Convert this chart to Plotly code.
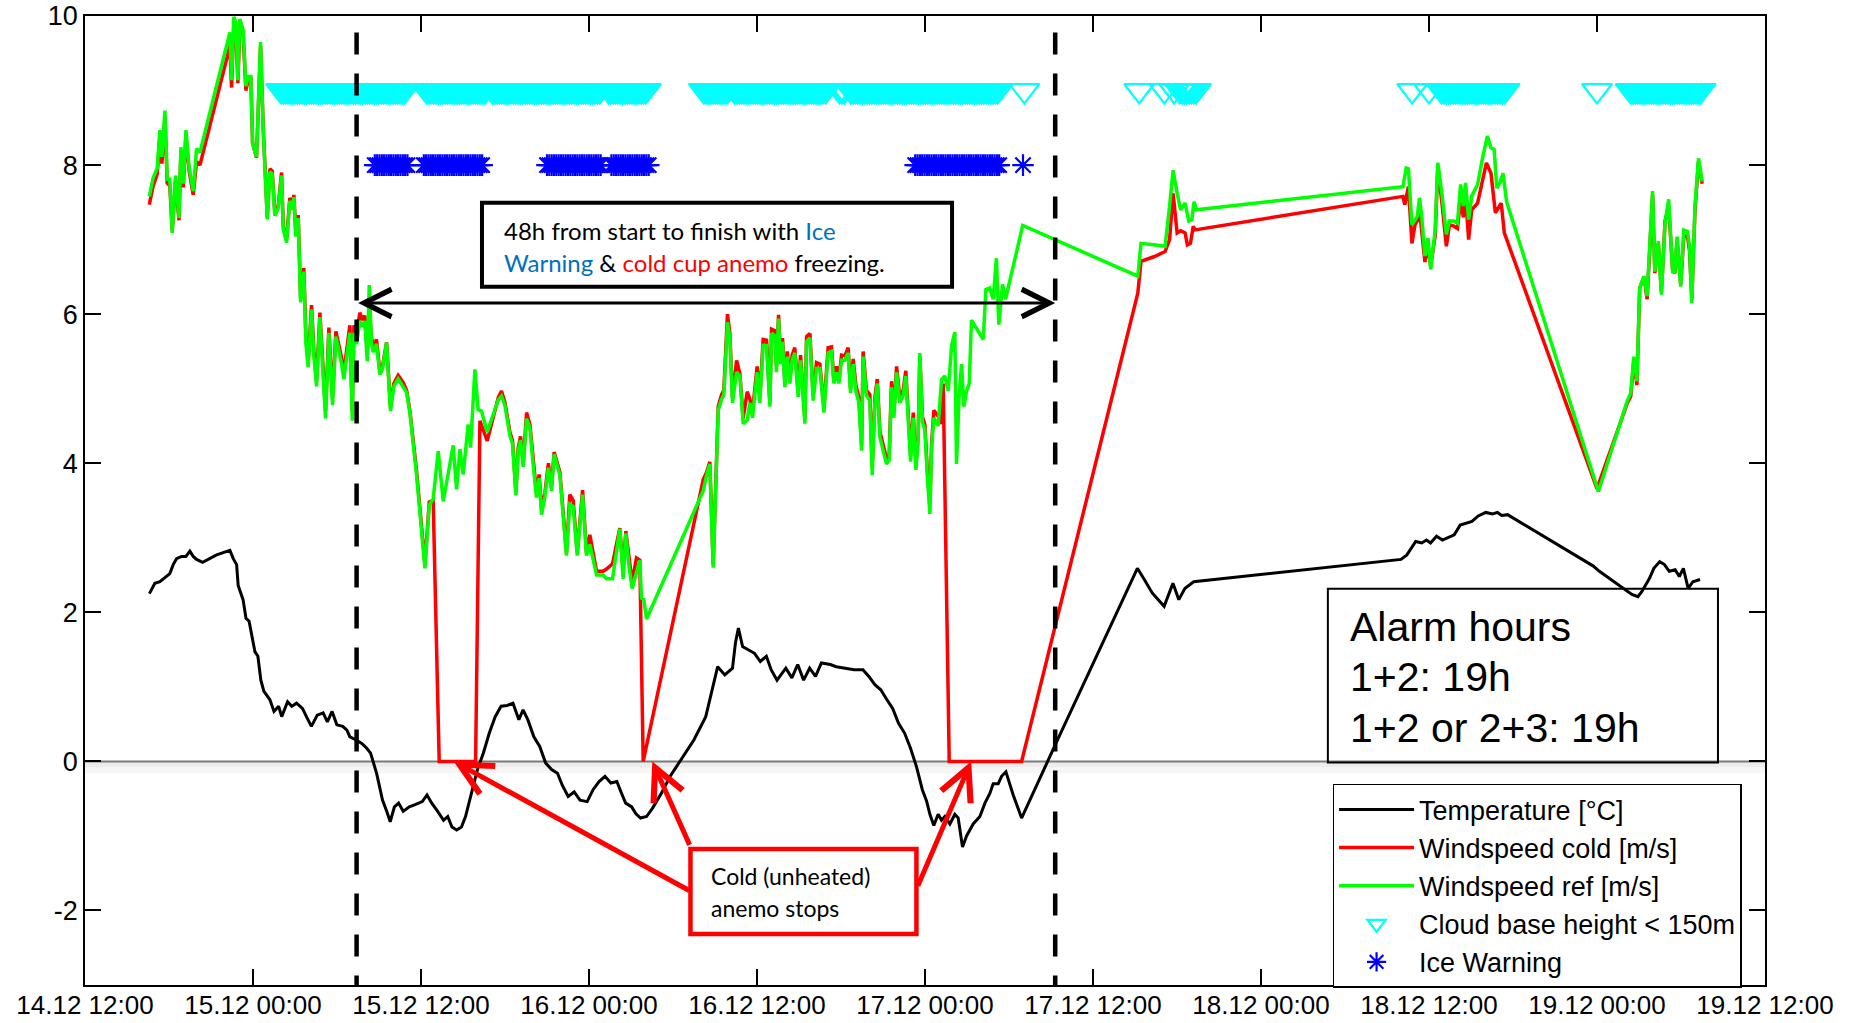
from datetime import datetime, timedelta

import numpy as np
import plotly.graph_objects as go

# ---------------------------------------------------------------------------
# Measurement data (time in hours after 14.12 12:00)
# ---------------------------------------------------------------------------
START = datetime(2014, 12, 14, 12, 0)

temp_hours = [
    4.6, 4.99, 5.35, 5.71, 6.06, 6.3, 6.54, 6.9, 7.21, 7.49, 7.73, 7.97, 8.4, 9.4, 10.35, 10.59,
    10.83, 10.94, 11.18, 11.29, 11.5, 11.72, 12.14, 12.35, 12.56, 12.78, 13.2, 13.5, 13.83, 14.05,
    14.47, 14.77, 15.11, 15.53, 15.87, 16.17, 16.59, 17.01, 17.31, 17.65, 17.99, 18.41, 18.71,
    18.92, 19.34, 19.77, 20.11, 20.4, 20.83, 21.25, 21.55, 21.8, 22.1, 22.4, 22.73, 23.16, 23.58,
    24.09, 24.43, 24.77, 25.19, 25.61, 25.91, 26.21, 26.55, 26.89, 27.18, 27.61, 28.03, 28.45,
    28.88, 29.3, 29.72, 30.15, 30.57, 30.99, 31.29, 31.63, 32.06, 32.48, 32.9, 33.33, 33.75, 34.09,
    34.51, 34.94, 35.36, 35.87, 36.29, 36.72, 37.14, 37.56, 37.99, 38.33, 38.62, 39.05, 39.34,
    39.68, 40.11, 40.53, 41.16, 41.8, 42.65, 43.5, 44.34, 44.77, 45.19, 45.7, 46.25, 46.46, 46.67,
    46.97, 47.4, 47.82, 48.24, 48.67, 49.01, 49.43, 50.06, 50.49, 50.91, 51.33, 51.76, 52.18, 52.6,
    53.24, 53.66, 54.3, 54.94, 55.57, 55.99, 56.42, 56.84, 57.27, 57.69, 58.11, 58.54, 58.96,
    59.39, 59.81, 60.11, 60.35, 60.63, 60.94, 61.18, 61.42, 61.78, 62.13, 62.37, 62.68, 62.97,
    63.44, 63.92, 64.28, 64.63, 64.87, 65.23, 65.47, 65.78, 66.3, 66.9, 69.25, 75.17, 75.6, 76.23,
    77.08, 77.5, 77.71, 78.13, 78.56, 79.19, 94.0, 94.42, 95.05, 95.48, 95.82, 96.11, 96.54, 96.96,
    97.38, 97.8, 98.23, 98.65, 99.07, 99.49, 100.05, 100.55, 100.89, 101.19, 101.61, 107.74,
    108.17, 110.49, 110.92, 111.21, 111.76, 112.06, 112.48, 112.82, 113.16, 113.58, 113.88,
    114.17, 114.51, 114.85, 115.36,
]
temp_degc = [
    2.25, 2.39, 2.41, 2.46, 2.52, 2.64, 2.72, 2.75, 2.75, 2.82, 2.75, 2.71, 2.67, 2.77, 2.83, 2.72,
    2.64, 2.36, 2.21, 2.17, 1.92, 1.88, 1.47, 1.41, 1.09, 0.94, 0.83, 0.67, 0.74, 0.6,
    0.8, 0.74, 0.78, 0.71, 0.58, 0.47, 0.62, 0.65, 0.53, 0.67, 0.49, 0.47, 0.42,
    0.33, 0.29, 0.24, 0.18, 0.11, -0.16, -0.52, -0.67, -0.81, -0.61, -0.56, -0.67, -0.61, -0.58,
    -0.54, -0.45, -0.56, -0.67, -0.79, -0.74, -0.88, -0.92, -0.88, -0.74, -0.43, -0.11, 0.11,
    0.38, 0.6, 0.74, 0.75, 0.78, 0.56, 0.69, 0.56, 0.33, 0.2, -0.02, -0.11, -0.16, -0.32,
    -0.47, -0.41, -0.52, -0.54, -0.38, -0.27, -0.2, -0.29, -0.27, -0.43, -0.56, -0.61, -0.7,
    -0.76, -0.74, -0.63, -0.43, -0.2, 0.04, 0.29, 0.6, 0.92, 1.27, 1.16, 1.25, 1.59, 1.79,
    1.54, 1.5, 1.45, 1.34, 1.41, 1.23, 1.09, 1.25, 1.12, 1.3, 1.09, 1.25, 1.14, 1.32,
    1.3, 1.27, 1.25, 1.23, 1.23, 1.14, 1.03, 0.96, 0.83, 0.71, 0.51, 0.38, 0.18,
    -0.07, -0.38, -0.53, -0.71, -0.86, -0.71, -0.79, -0.74, -0.84, -0.71, -0.76, -1.15, -1.0,
    -0.84, -0.74, -0.56, -0.43, -0.3, -0.3, -0.2, -0.14, -0.45, -0.76, 0.2, 2.59, 2.46, 2.26,
    2.08, 2.28, 2.39, 2.17, 2.32, 2.41, 2.71, 2.77, 2.95, 2.93, 2.97, 2.93, 3.02, 2.97,
    3.0, 3.04, 3.17, 3.19, 3.22, 3.29, 3.34, 3.32, 3.34, 3.3, 3.31, 2.62,
    2.55, 2.24, 2.21, 2.28, 2.46, 2.59, 2.68, 2.64, 2.55, 2.57, 2.48,
    2.59, 2.32, 2.41, 2.44,
]

# Unheated (cold) cup anemometer
cold_hours = [
    4.59, 4.87, 5.16, 5.35, 5.49, 5.71, 5.87, 6.06, 6.23, 6.47, 6.71, 6.85, 7.02, 7.21, 7.44, 7.73,
    7.97, 8.21, 10.35, 10.47, 10.63, 10.78, 10.92, 11.06, 11.3, 11.49, 11.66, 11.85, 11.97, 12.25,
    12.54, 12.73, 13.02, 13.21, 13.37, 13.56, 13.8, 14.04, 14.16, 14.4, 14.63, 14.82, 14.92, 15.06,
    15.23, 15.4, 15.63, 15.78, 15.94, 16.18, 16.35, 16.54, 16.78, 16.97, 17.18, 17.42, 17.68,
    17.92, 18.16, 18.32, 18.49, 18.68, 18.92, 19.09, 19.21, 19.4, 19.63, 19.82, 19.99, 20.16, 20.3,
    20.47, 20.59, 20.82, 21.06, 21.25, 21.54, 21.82, 22.06, 22.37, 22.73, 22.97, 23.21, 23.68,
    24.28, 24.59, 24.87,
    25.3, 27.9, 28.21, 28.73, 29.52, 29.75, 29.99, 30.35, 30.54, 30.78, 30.94, 31.11, 31.3, 31.54,
    31.78, 32.01, 32.25, 32.44, 32.61, 32.85, 33.1, 33.32, 33.51, 33.92, 34.16, 34.39, 34.63,
    34.87, 35.16, 35.54, 35.82, 36.06, 36.54, 37.01, 37.25, 37.68, 38.2, 38.44, 38.63, 38.87,
    39.08, 39.39, 39.63,
    39.87, 44.16, 44.4, 44.63, 44.87, 45.23, 45.47, 45.63, 45.89, 46.06, 46.25, 46.54, 46.78,
    47.01, 47.3, 47.49, 47.68, 48.01, 48.2, 48.44, 48.68, 48.92, 49.04, 49.28, 49.39, 49.54,
    49.68, 49.82, 49.99, 50.16, 50.35, 50.51, 50.7, 50.94, 51.11, 51.42, 51.54, 51.78, 52.01,
    52.25, 52.49, 52.78, 53.08, 53.32, 53.49, 53.68, 53.85, 54.04, 54.28, 54.51, 54.68, 54.87,
    55.06, 55.28, 55.47, 55.58, 55.82, 56.06, 56.23, 56.42, 56.59, 56.78, 57.01, 57.25, 57.44,
    57.61, 57.78, 57.97, 58.2, 58.44, 58.63, 58.8, 58.97, 59.16, 59.35, 59.51, 59.63, 59.82,
    59.99, 60.16, 60.35, 60.47, 60.63, 60.94, 61.18, 61.3,
    61.73, 66.9, 75.2, 75.43, 76.35, 77.15, 77.47, 77.72, 78.01, 78.26, 78.58, 78.74, 78.96,
    79.16, 79.29,
    94.14, 94.27, 94.53, 94.78, 95.0, 95.16, 95.32, 95.48, 95.71, 95.93, 96.12, 96.44, 96.63,
    96.92, 97.24, 97.46, 97.78, 98.03, 98.26, 98.45, 98.61, 98.83, 99.05, 99.47, 99.85, 100.1,
    100.43, 100.74, 101.16, 101.38,
    108.0, 110.15, 110.41, 110.63, 110.85, 111.05, 111.36, 111.58, 111.97, 112.13, 112.38, 112.6,
    112.86, 113.12, 113.4, 113.56, 113.72, 113.98, 114.2, 114.46, 114.61, 114.77, 115.0, 115.25,
    115.51,
]
cold_speed = [
    7.47, 7.72, 7.88, 8.4, 8.02, 8.65, 7.76, 7.72, 7.12, 7.8, 7.26, 8.16, 7.7, 8.4, 7.92, 7.6,
    8.05, 8.0, 9.6, 9.04, 9.9, 9.85, 9.1, 9.9, 9.75, 9.0, 9.15, 9.15, 8.3, 8.1,
    9.6, 8.5, 7.3, 7.95, 7.92, 7.36, 7.45, 7.9, 7.18, 7.0, 7.56, 7.45, 7.6, 7.08,
    7.33, 6.22, 6.62, 5.7, 5.35, 6.12, 5.5, 5.1, 6.02, 5.38, 4.7, 5.82, 4.88,
    5.77, 5.58, 5.42, 5.22, 5.47, 5.85, 4.7, 5.85, 5.72, 6.02, 5.92, 5.98, 5.45, 6.05,
    5.68, 5.57, 5.66, 5.23, 5.3, 5.62, 4.75, 5.07, 5.18, 5.08, 4.98, 4.7, 3.9,
    2.65, 3.48, 3.5,
    0.0, 0.0, 4.57, 4.3, 4.88, 4.97, 4.82, 4.42, 4.3, 3.62, 4.2, 4.36, 4.0, 4.68,
    4.52, 4.05, 3.6, 3.85, 3.38, 3.6, 4.0, 3.68, 4.15, 3.88, 3.32, 2.8, 3.58,
    3.5, 2.8, 3.64, 2.8, 3.04, 2.55, 2.55, 2.58, 2.65, 3.13, 2.55, 3.09, 2.7,
    2.4, 2.73, 2.7,
    0.0, 3.78, 3.88, 4.02, 2.65, 4.76, 4.92, 4.98, 6.0, 5.75, 4.88, 5.38, 5.2,
    4.6, 4.96, 4.86, 4.7, 5.3, 4.88, 5.66, 5.65, 4.82, 5.8, 5.78, 5.3, 5.99,
    5.4, 5.68, 5.1, 5.5, 5.12, 5.45, 5.55, 4.95, 5.45, 4.6, 5.7, 5.74, 4.9,
    5.35, 5.33, 4.75, 5.55, 5.56, 5.12, 5.3, 5.12, 5.45, 5.44, 5.55, 5.0, 5.4,
    5.05, 4.88, 4.25, 5.5, 4.98, 4.92, 3.95, 4.88, 5.13, 4.42, 4.25, 4.06, 4.1,
    5.1, 4.68, 5.3, 4.88, 4.98, 5.24, 4.68, 4.1, 4.68, 3.98, 4.36, 5.42, 4.62,
    4.52, 3.92, 3.45, 4.25, 4.71, 4.63, 4.53, 5.07,
    0.0, 0.0, 6.28, 6.71, 6.77, 6.84, 7.0, 7.62, 7.09, 7.12, 7.09, 6.93, 6.95,
    7.18, 7.13,
    7.58, 7.47, 7.71, 6.95, 7.2, 7.25, 7.4, 7.1, 6.7, 6.9, 6.65, 7.05, 7.98,
    7.5, 6.91, 7.2, 7.18, 7.15, 7.55, 7.3, 7.6, 7.0, 7.4, 7.49, 7.8, 8.03,
    7.89, 7.36, 7.49, 7.09,
    3.66, 4.8, 4.9, 5.38, 5.05, 6.35, 6.5, 6.2, 7.6, 6.55, 6.95, 6.3,
    7.25, 7.45, 6.6, 6.55, 7.0, 6.4, 7.05, 7.05, 6.85, 6.2, 7.4, 8.05,
    7.75,
]

# Heated reference anemometer
ref_hours = [
    4.59, 4.87, 5.16, 5.35, 5.49, 5.71, 5.87, 6.06, 6.23, 6.47, 6.71, 6.85, 7.02, 7.21, 7.44, 7.73,
    7.97, 8.21, 10.35, 10.47, 10.63, 10.78, 10.92, 11.06, 11.3, 11.49, 11.66, 11.85, 11.97, 12.25,
    12.54, 12.73, 13.02, 13.21, 13.37, 13.56, 13.8, 14.04, 14.16, 14.4, 14.63, 14.82, 14.92, 15.06,
    15.23, 15.4, 15.63, 15.78, 15.94, 16.18, 16.35, 16.54, 16.78, 16.97, 17.18, 17.42, 17.68,
    17.92, 18.16, 18.32, 18.49, 18.68, 18.92, 19.09, 19.21, 19.4, 19.63, 19.82, 19.99, 20.16, 20.3,
    20.47, 20.59, 20.82, 21.06, 21.25, 21.54, 21.82, 22.06, 22.37, 22.73, 22.97, 23.21, 23.68,
    24.28, 24.59, 24.87, 25.23, 25.59, 25.94, 26.3, 26.54, 26.78, 27.01, 27.37, 27.54, 27.85,
    28.08, 28.32, 28.73, 29.52, 29.75, 29.99, 30.35, 30.54, 30.78, 30.94, 31.11, 31.3, 31.54,
    31.78, 32.01, 32.25, 32.44, 32.61, 32.85, 33.1, 33.32, 33.51, 33.92, 34.16, 34.39, 34.63,
    34.87, 35.16, 35.54, 35.82, 36.06, 36.54, 37.01, 37.25, 37.68, 38.2, 38.44, 38.63, 38.87,
    39.08, 39.39, 39.63, 39.75, 39.92, 40.11,
    44.16, 44.4, 44.63, 44.87, 45.23, 45.47, 45.63, 45.89, 46.06, 46.25, 46.54, 46.78,
    47.01, 47.3, 47.49, 47.68, 48.01, 48.2, 48.44, 48.68, 48.92, 49.04, 49.28, 49.39, 49.54,
    49.68, 49.82, 49.99, 50.16, 50.35, 50.51, 50.7, 50.94, 51.11, 51.42, 51.54, 51.78, 52.01,
    52.25, 52.49, 52.78, 53.08, 53.32, 53.49, 53.68, 53.85, 54.04, 54.28, 54.51, 54.68, 54.87,
    55.06, 55.28, 55.47, 55.58, 55.82, 56.06, 56.23, 56.42, 56.59, 56.78, 57.01, 57.25, 57.44,
    57.61, 57.78, 57.97, 58.2, 58.44, 58.63, 58.8, 58.97, 59.16, 59.35, 59.51, 59.63, 59.82,
    59.99, 60.16, 60.35, 60.47, 60.63, 60.94, 61.18, 61.42, 61.66, 61.9, 62.13, 62.25, 62.44,
    62.61, 62.78, 62.97, 63.16, 63.32, 64.16, 64.35, 64.63, 64.87, 65.1, 65.27, 65.54, 65.75,
    65.94, 66.98,
    75.2, 75.43, 76.35, 77.15, 77.47, 77.72, 78.01, 78.26, 78.58, 78.84, 79.06, 79.22, 79.38,
    94.14, 94.37, 94.53, 94.78, 95.0, 95.16, 95.32, 95.48, 95.71, 95.93, 96.12, 96.44, 96.63,
    96.92, 97.24, 97.46, 97.78, 98.03, 98.26, 98.45, 98.61, 98.83, 99.05, 99.47, 99.85, 100.17,
    100.43, 100.65, 100.84, 101.06, 101.29, 101.54,
    108.1, 110.15, 110.41, 110.63, 110.85, 111.05, 111.36, 111.58, 111.97, 112.13, 112.38, 112.6,
    112.86, 113.12, 113.4, 113.56, 113.72, 113.98, 114.2, 114.46, 114.61, 114.77, 115.0, 115.25,
    115.51,
]
ref_speed = [
    7.58, 7.83, 7.96, 8.47, 8.11, 8.73, 7.81, 7.81, 7.09, 7.86, 7.29, 8.24, 7.75, 8.47, 7.96, 7.65,
    8.22, 8.17, 9.78, 9.14, 9.99, 9.91, 9.14, 9.96, 9.81, 9.06, 9.19, 9.19, 8.29, 8.11,
    9.65, 8.47, 7.27, 7.91, 7.88, 7.32, 7.42, 7.86, 7.14, 6.96, 7.52, 7.4, 7.57, 7.04,
    7.29, 6.16, 6.57, 5.6, 5.29, 6.06, 5.44, 5.03, 5.96, 5.29, 4.6, 5.75, 4.78,
    5.7, 5.49, 5.34, 5.13, 5.39, 5.75, 4.57, 5.75, 5.6, 5.91, 5.83, 5.91, 5.37, 6.39,
    5.6, 5.49, 5.6, 5.19, 5.26, 5.62, 4.7, 5.03, 5.13, 5.03, 4.95, 4.67, 3.85,
    2.59, 3.44, 3.52, 4.16, 3.49, 3.85, 4.24, 3.65, 4.19, 3.85, 4.52, 4.21, 5.26,
    4.72, 4.7, 4.42, 4.85, 4.9, 4.78, 4.37, 4.26, 3.57, 4.16, 4.31, 3.95, 4.6,
    4.47, 3.98, 3.54, 3.8, 3.31, 3.55, 3.94, 3.63, 4.12, 3.84, 3.27, 2.76, 3.45,
    3.42, 2.76, 3.58, 2.76, 2.91, 2.5, 2.5, 2.45, 2.45, 3.12, 2.45, 3.06, 2.6,
    2.32, 2.55, 2.7, 2.19, 2.17, 1.91,
    3.63, 3.84, 3.99, 2.6, 4.71, 4.86, 4.91, 5.89, 5.68, 4.81, 5.22, 5.17,
    4.53, 4.58, 4.81, 4.61, 5.22, 4.81, 5.58, 5.58, 4.76, 5.74, 5.71, 5.22, 5.94,
    5.33, 5.63, 5.02, 5.43, 5.07, 5.38, 5.48, 4.89, 5.38, 4.53, 5.63, 5.68, 4.84,
    5.27, 5.27, 4.68, 5.48, 5.5, 5.07, 5.22, 5.07, 5.38, 5.38, 5.48, 4.94, 5.33,
    4.97, 4.81, 4.17, 5.43, 4.91, 4.84, 3.84, 4.81, 5.07, 4.35, 4.17, 3.99, 4.04,
    5.02, 4.61, 5.22, 4.81, 4.91, 5.17, 4.61, 4.02, 4.61, 3.91, 4.3, 5.48, 4.55,
    4.45, 3.84, 3.32, 4.2, 4.61, 4.5, 5.12, 5.17, 4.97, 5.58, 5.76, 3.99, 4.91,
    5.33, 4.76, 4.97, 5.07, 5.92, 5.66, 6.33, 6.35, 6.2, 6.75, 5.86, 6.4, 6.2,
    6.35, 7.19,
    6.51, 6.95, 6.93, 6.91, 7.45, 7.93, 7.62, 7.4, 7.49, 7.25, 7.27, 7.51, 7.4,
    7.71, 7.96, 7.95, 7.2, 7.27, 7.31, 7.56, 7.31, 6.78, 7.02, 6.6, 7.13, 8.03,
    7.62, 7.07, 7.25, 7.25, 7.22, 7.74, 7.45, 7.76, 7.27, 7.58, 7.74, 8.12, 8.39,
    8.23, 8.21, 7.69, 7.76, 7.89, 7.51,
    3.62, 4.83, 4.94, 5.43, 5.1, 6.35, 6.51, 6.24, 7.65, 6.57, 6.98, 6.26,
    7.22, 7.54, 6.57, 6.57, 7.04, 6.37, 7.13, 7.11, 6.91, 6.15, 7.45, 8.09,
    7.78,
]

# Flag periods (first and last flagged 10-minute sample, hours after start)
SAMPLE_STEP_H = 1.0 / 6.0
CLOUD_LOW_PERIODS = [
    (14.0, 22.8), (24.4, 28.5), (29.1, 36.8), (37.4, 40.1),
    (44.2, 45.8), (46.4, 52.9), (53.9, 54.2), (54.7, 65.2), (67.1, 67.1),
    (75.3, 75.3), (77.1, 77.1), (77.8, 77.8), (78.2, 79.3),
    (94.8, 94.8), (96.0, 96.0), (96.9, 101.4),
    (108.0, 108.0), (110.4, 115.4),
]
ICE_WARNING_PERIODS = [
    (20.7, 23.0), (24.2, 28.3), (33.0, 36.9), (37.6, 40.3), (59.3, 65.3), (67.0, 67.0),
]
CLOUD_FLAG_LEVEL = 9.0
ICE_FLAG_LEVEL = 8.0

# Start and end of the icing event (hours after start)
EVENT_HOURS = [19.4, 69.3]
EVENT_ARROW_LEVEL = 6.15
# Times where the cold anemometer has stopped (arrow targets)
STOP_HOURS = [26.33, 40.52, 63.3]

X_RANGE_H = [0, 120]
Y_RANGE = [-3, 10]
Y_TICKS = [-2, 0, 2, 4, 6, 8, 10]
Y_TICK_TEXT = ["-2", "0", "2", "4", "6", "8", "10"]


def to_time(h):
    return START + timedelta(hours=float(h))


def flag_times(periods):
    out = []
    for a, b in periods:
        n = int(round((b - a) / SAMPLE_STEP_H))
        out.extend(a + k * SAMPLE_STEP_H for k in range(n + 1))
    return [to_time(h) for h in out]


AX_FONT = "Liberation Sans, Arial, Helvetica, sans-serif"
NOTE_FONT = "Lato, Carlito, Calibri, sans-serif"

fig = go.Figure()

fig.add_trace(go.Scatter(
    x=[to_time(h) for h in temp_hours], y=temp_degc, mode="lines",
    name="Temperature [°C]", line=dict(color="black", width=3),
))
fig.add_trace(go.Scatter(
    x=[to_time(h) for h in cold_hours], y=cold_speed, mode="lines",
    name="Windspeed cold [m/s]", line=dict(color="#ff0000", width=3.5),
))
fig.add_trace(go.Scatter(
    x=[to_time(h) for h in ref_hours], y=ref_speed, mode="lines",
    name="Windspeed ref [m/s]", line=dict(color="#00ff00", width=3.5),
))
cloud_t = flag_times(CLOUD_LOW_PERIODS)
fig.add_trace(go.Scatter(
    x=cloud_t, y=[CLOUD_FLAG_LEVEL] * len(cloud_t), mode="markers",
    name="Cloud base height < 150m",
    marker=dict(symbol="triangle-down-open", size=26, color="#00ffff",
                line=dict(color="#00ffff", width=2.2)),
))
ice_t = flag_times(ICE_WARNING_PERIODS)
fig.add_trace(go.Scatter(
    x=ice_t, y=[ICE_FLAG_LEVEL] * len(ice_t), mode="markers",
    name="Ice Warning",
    marker=dict(symbol="asterisk-open", size=18, color="#0000ff",
                line=dict(color="#0000ff", width=2.2)),
))

# Event start / end markers
for h in EVENT_HOURS:
    fig.add_trace(go.Scatter(
        x=[to_time(h), to_time(h)], y=[9.78, Y_RANGE[0]], mode="lines",
        showlegend=False, hoverinfo="skip",
        line=dict(color="black", width=4.5, dash="22px,19px"),
    ))

shapes = [
    # zero line with a soft shadow underneath
    dict(type="rect", xref="paper", yref="y", x0=0, x1=1, y0=-0.16, y1=0,
         fillcolor="rgba(0,0,0,0.035)", line_width=0, layer="below"),
    dict(type="rect", xref="paper", yref="y", x0=0, x1=1, y0=-0.08, y1=0,
         fillcolor="rgba(0,0,0,0.04)", line_width=0, layer="below"),
    dict(type="line", xref="paper", yref="y", x0=0, x1=1, y0=0, y1=0,
         line=dict(color="#7a7a7a", width=2), layer="below"),
    # text frames
    dict(type="rect", xref="paper", yref="paper", x0=0.2363, x1=0.5161, y0=0.7207, y1=0.8074,
         fillcolor="white", line=dict(color="black", width=4)),
    dict(type="rect", xref="paper", yref="paper", x0=0.7398, x1=0.972, y0=0.2295, y1=0.4089,
         line=dict(color="black", width=2)),
    dict(type="rect", xref="paper", yref="paper", x0=0.3604, x1=0.4949, y0=0.0527, y1=0.1404,
         fillcolor="white", line=dict(color="#ff0000", width=4.5)),
]

annotations = [
    # double arrow spanning the event
    dict(x=to_time(EVENT_HOURS[1]), y=EVENT_ARROW_LEVEL, ax=to_time(EVENT_HOURS[0]),
         ay=EVENT_ARROW_LEVEL, xref="x", yref="y", axref="x", ayref="y", text="",
         showarrow=True, arrowside="end+start", arrowhead=5, startarrowhead=5,
         arrowsize=1.8, startarrowsize=1.8, arrowwidth=3, arrowcolor="black",
         standoff=0, startstandoff=0),
    dict(x=0.2485, y=0.7789, xref="paper", yref="paper", xanchor="left", yanchor="middle",
         showarrow=False, font=dict(family=NOTE_FONT, size=24, color="black"),
         text='48h from start to finish with <span style="color:#0070c0">Ice</span>'),
    dict(x=0.2485, y=0.746, xref="paper", yref="paper", xanchor="left", yanchor="middle",
         showarrow=False, font=dict(family=NOTE_FONT, size=24, color="black"),
         text='<span style="color:#0070c0">Warning</span> &amp; '
              '<span style="color:#ff0000">cold cup anemo</span> freezing.'),
    dict(x=0.7518, y=0.3696, xref="paper", yref="paper", xanchor="left", yanchor="middle",
         showarrow=False, font=dict(family=AX_FONT, size=41, color="black"),
         text="Alarm hours"),
    dict(x=0.7518, y=0.3174, xref="paper", yref="paper", xanchor="left", yanchor="middle",
         showarrow=False, font=dict(family=AX_FONT, size=41, color="black"),
         text="1+2: 19h"),
    dict(x=0.7518, y=0.2649, xref="paper", yref="paper", xanchor="left", yanchor="middle",
         showarrow=False, font=dict(family=AX_FONT, size=41, color="black"),
         text="1+2 or 2+3: 19h"),
    dict(x=0.3717, y=0.1125, xref="paper", yref="paper", xanchor="left", yanchor="middle",
         showarrow=False, font=dict(family=NOTE_FONT, size=23, color="black"),
         text="Cold (unheated)"),
    dict(x=0.3717, y=0.0795, xref="paper", yref="paper", xanchor="left", yanchor="middle",
         showarrow=False, font=dict(family=NOTE_FONT, size=23, color="black"),
         text="anemo stops"),
]

# red arrows from the callout to the stopped-anemometer periods
arrow_tails = [(237, 130), (38, 85), (-54, 126)]
for h, (dx, dy) in zip(STOP_HOURS, arrow_tails):
    annotations.append(dict(
        x=to_time(h), y=0, xref="x", yref="y", ax=dx, ay=dy, text="",
        showarrow=True, arrowhead=5, arrowsize=1.25, arrowwidth=5,
        arrowcolor="#ff0000", standoff=0,
    ))

fig.update_layout(
    width=1854, height=1023,
    margin=dict(l=85, r=89, t=16, b=38),
    paper_bgcolor="white", plot_bgcolor="white",
    font=dict(family=AX_FONT, size=27, color="black"),
    showlegend=True,
    legend=dict(
        x=0.7426, y=0.2075, xanchor="left", yanchor="top",
        bgcolor="white", bordercolor="black", borderwidth=1.5,
        font=dict(family=AX_FONT, size=27, color="black"),
        itemwidth=75, tracegroupgap=0,
    ),
    xaxis=dict(
        type="date", range=[to_time(X_RANGE_H[0]), to_time(X_RANGE_H[1])],
        tick0=to_time(0), dtick=12 * 3600 * 1000, tickformat="%d.%m %H:%M",
        ticks="inside", ticklen=16, tickwidth=1.5, tickcolor="black",
        showline=True, linecolor="black", linewidth=1.5, mirror="ticks",
        showgrid=False, zeroline=False, tickfont=dict(size=26), automargin=False,
        ticklabelstandoff=-4,
    ),
    yaxis=dict(
        range=Y_RANGE, tickmode="array", tickvals=Y_TICKS, ticktext=Y_TICK_TEXT,
        ticks="inside", ticklen=16, tickwidth=1.5, tickcolor="black",
        showline=True, linecolor="black", linewidth=1.5, mirror="ticks",
        showgrid=False, zeroline=False, tickfont=dict(size=27), automargin=False,
    ),
    shapes=shapes,
    annotations=annotations,
)

fig.write_html("out.html")
